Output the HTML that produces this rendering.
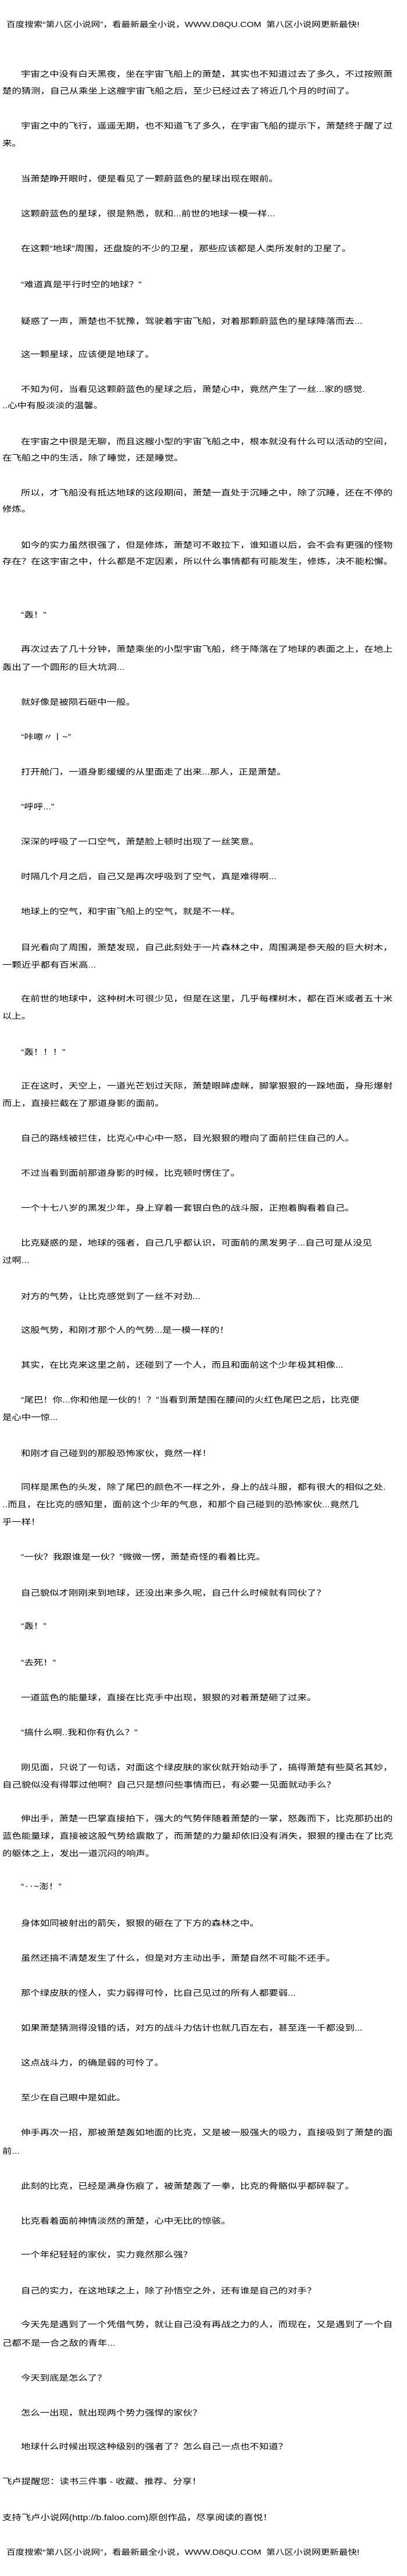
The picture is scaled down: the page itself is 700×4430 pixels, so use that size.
<!DOCTYPE html>
<html><head><meta charset="utf-8"><style>
html,body{margin:0;padding:0;background:#fff;}
body{width:700px;height:4430px;position:relative;overflow:hidden;font-family:"Liberation Sans","Noto Sans CJK SC",sans-serif;color:#000;}
div{position:absolute;left:4px;height:30px;line-height:30px;font-size:16.4px;white-space:nowrap;transform:scaleY(0.82);transform-origin:left center;}
div.i{left:36px;}
div.h{left:11px;font-size:15.6px;}
</style></head><body>
<div class="h" style="top:28px">百度搜索“第八区小说网”，看最新最全小说，WWW.D8QU.COM&nbsp;&nbsp;第八区小说网更新最快!</div>
<div class="i" style="top:113px">宇宙之中没有白天黑夜，坐在宇宙飞船上的萧楚，其实也不知道过去了多久，不过按照萧</div>
<div style="top:142px">楚的猜测，自己从乘坐上这艘宇宙飞船之后，至少已经过去了将近几个月的时间了。</div>
<div class="i" style="top:202px">宇宙之中的飞行，遥遥无期，也不知道飞了多久，在宇宙飞船的提示下，萧楚终于醒了过</div>
<div style="top:232px">来。</div>
<div class="i" style="top:293px">当萧楚睁开眼时，便是看见了一颗蔚蓝色的星球出现在眼前。</div>
<div class="i" style="top:353px">这颗蔚蓝色的星球，很是熟悉，就和...前世的地球一模一样...</div>
<div class="i" style="top:413px">在这颗“地球”周围，还盘旋的不少的卫星，那些应该都是人类所发射的卫星了。</div>
<div class="i" style="top:475px">“难道真是平行时空的地球？”</div>
<div class="i" style="top:538px">疑惑了一声，萧楚也不犹豫，驾驶着宇宙飞船，对着那颗蔚蓝色的星球降落而去...</div>
<div class="i" style="top:595px">这一颗星球，应该便是地球了。</div>
<div class="i" style="top:655px">不知为何，当看见这颗蔚蓝色的星球之后，萧楚心中，竟然产生了一丝...家的感觉.</div>
<div style="top:683px">..心中有股淡淡的温馨。</div>
<div class="i" style="top:745px">在宇宙之中很是无聊，而且这艘小型的宇宙飞船之中，根本就没有什么可以活动的空间，</div>
<div style="top:773px">在飞船之中的生活，除了睡觉，还是睡觉。</div>
<div class="i" style="top:833px">所以，才飞船没有抵达地球的这段期间，萧楚一直处于沉睡之中，除了沉睡，还在不停的</div>
<div style="top:861px">修炼。</div>
<div class="i" style="top:923px">如今的实力虽然很强了，但是修炼，萧楚可不敢拉下，谁知道以后，会不会有更强的怪物</div>
<div style="top:951px">存在？在这宇宙之中，什么都是不定因素，所以什么事情都有可能发生，修炼，决不能松懈。</div>
<div class="i" style="top:1043px">“轰！”</div>
<div class="i" style="top:1102px">再次过去了几十分钟，萧楚乘坐的小型宇宙飞船，终于降落在了地球的表面之上，在地上</div>
<div style="top:1133px">轰出了一个圆形的巨大坑洞...</div>
<div class="i" style="top:1193px">就好像是被陨石砸中一般。</div>
<div class="i" style="top:1253px">“咔嚓〃丨~”</div>
<div class="i" style="top:1313px">打开舱门，一道身影缓缓的从里面走了出来...那人，正是萧楚。</div>
<div class="i" style="top:1373px">“呼呼...”</div>
<div class="i" style="top:1433px">深深的呼吸了一口空气，萧楚脸上顿时出现了一丝笑意。</div>
<div class="i" style="top:1493px">时隔几个月之后，自己又是再次呼吸到了空气，真是难得啊...</div>
<div class="i" style="top:1553px">地球上的空气，和宇宙飞船上的空气，就是不一样。</div>
<div class="i" style="top:1615px">目光看向了周围，萧楚发现，自己此刻处于一片森林之中，周围满是参天般的巨大树木，</div>
<div style="top:1645px">一颗近乎都有百米高...</div>
<div class="i" style="top:1703px">在前世的地球中，这种树木可很少见，但是在这里，几乎每棵树木，都在百米或者五十米</div>
<div style="top:1733px">以上。</div>
<div class="i" style="top:1795px">“轰！！！”</div>
<div class="i" style="top:1853px">正在这时，天空上，一道光芒划过天际，萧楚眼眸虚眯，脚掌狠狠的一跺地面，身形爆射</div>
<div style="top:1883px">而上，直接拦截在了那道身影的面前。</div>
<div class="i" style="top:1943px">自己的路线被拦住，比克心中心中一怒，目光狠狠的瞪向了面前拦住自己的人。</div>
<div class="i" style="top:2003px">不过当看到面前那道身影的时候，比克顿时愣住了。</div>
<div class="i" style="top:2063px">一个十七八岁的黑发少年，身上穿着一套银白色的战斗服，正抱着胸看着自己。</div>
<div class="i" style="top:2123px">比克疑惑的是，地球的强者，自己几乎都认识，可面前的黑发男子...自己可是从没见</div>
<div style="top:2153px">过啊...</div>
<div class="i" style="top:2215px">对方的气势，让比克感觉到了一丝不对劲...</div>
<div class="i" style="top:2273px">这股气势，和刚才那个人的气势...是一模一样的！</div>
<div class="i" style="top:2333px">其实，在比克来这里之前，还碰到了一个人，而且和面前这个少年极其相像...</div>
<div class="i" style="top:2393px">“尾巴！你...你和他是一伙的！？”当看到萧楚围在腰间的火红色尾巴之后，比克便</div>
<div style="top:2423px">是心中一惊...</div>
<div class="i" style="top:2485px">和刚才自己碰到的那股恐怖家伙，竟然一样！</div>
<div class="i" style="top:2543px">同样是黑色的头发，除了尾巴的颜色不一样之外，身上的战斗服，都有很大的相似之处.</div>
<div style="top:2573px">..而且，在比克的感知里，面前这个少年的气息，和那个自己碰到的恐怖家伙...竟然几</div>
<div style="top:2603px">乎一样！</div>
<div class="i" style="top:2663px">“一伙？我跟谁是一伙？”微微一愣，萧楚奇怪的看着比克。</div>
<div class="i" style="top:2725px">自己貌似才刚刚来到地球，还没出来多久呢，自己什么时候就有同伙了？</div>
<div class="i" style="top:2782px">“轰！”</div>
<div class="i" style="top:2845px">“去死！”</div>
<div class="i" style="top:2905px">一道蓝色的能量球，直接在比克手中出现，狠狠的对着萧楚砸了过来。</div>
<div class="i" style="top:2965px">“搞什么啊..我和你有仇么？”</div>
<div class="i" style="top:3025px">刚见面，只说了一句话，对面这个绿皮肤的家伙就开始动手了，搞得萧楚有些莫名其妙，</div>
<div style="top:3055px">自己貌似没有得罪过他啊？自己只是想问些事情而已，有必要一见面就动手么？</div>
<div class="i" style="top:3113px">伸出手，萧楚一巴掌直接拍下，强大的气势伴随着萧楚的一掌，怒轰而下，比克那扔出的</div>
<div style="top:3143px">蓝色能量球，直接被这股气势给震散了，而萧楚的力量却依旧没有消失，狠狠的撞击在了比克</div>
<div style="top:3173px">的躯体之上，发出一道沉闷的响声。</div>
<div class="i" style="top:3230px">“‥~澎！”</div>
<div class="i" style="top:3293px">身体如同被射出的箭矢，狠狠的砸在了下方的森林之中。</div>
<div class="i" style="top:3353px">虽然还搞不清楚发生了什么，但是对方主动出手，萧楚自然不可能不还手。</div>
<div class="i" style="top:3413px">那个绿皮肤的怪人，实力弱得可怜，比自己见过的所有人都要弱...</div>
<div class="i" style="top:3473px">如果萧楚猜测得没错的话，对方的战斗力估计也就几百左右，甚至连一千都没到...</div>
<div class="i" style="top:3533px">这点战斗力，的确是弱的可怜了。</div>
<div class="i" style="top:3593px">至少在自己眼中是如此。</div>
<div class="i" style="top:3653px">伸手再次一招，那被萧楚轰如地面的比克，又是被一股强大的吸力，直接吸到了萧楚的面</div>
<div style="top:3685px">前...</div>
<div class="i" style="top:3745px">此刻的比克，已经是满身伤痕了，被萧楚轰了一拳，比克的骨骼似乎都碎裂了。</div>
<div class="i" style="top:3805px">比克看着面前神情淡然的萧楚，心中无比的惊骇。</div>
<div class="i" style="top:3863px">一个年纪轻轻的家伙，实力竟然那么强？</div>
<div class="i" style="top:3925px">自己的实力，在这地球之上，除了孙悟空之外，还有谁是自己的对手？</div>
<div class="i" style="top:3983px">今天先是遇到了一个凭借气势，就让自己没有再战之力的人，而现在，又是遇到了一个自</div>
<div style="top:4015px">己都不是一合之敌的青年...</div>
<div class="i" style="top:4075px">今天到底是怎么了？</div>
<div class="i" style="top:4135px">怎么一出现，就出现两个势力强悍的家伙？</div>
<div class="i" style="top:4193px">地球什么时候出现这种级别的强者了？怎么自己一点也不知道？</div>
<div style="top:4253px">飞卢提醒您：读书三件事 - 收藏、推荐、分享！</div>
<div style="top:4315px">支持飞卢小说网(http://b.faloo.com)原创作品，尽享阅读的喜悦！</div>
<div class="h" style="top:4375px">百度搜索“第八区小说网”，看最新最全小说，WWW.D8QU.COM&nbsp;&nbsp;第八区小说网更新最快!</div>
</body></html>
